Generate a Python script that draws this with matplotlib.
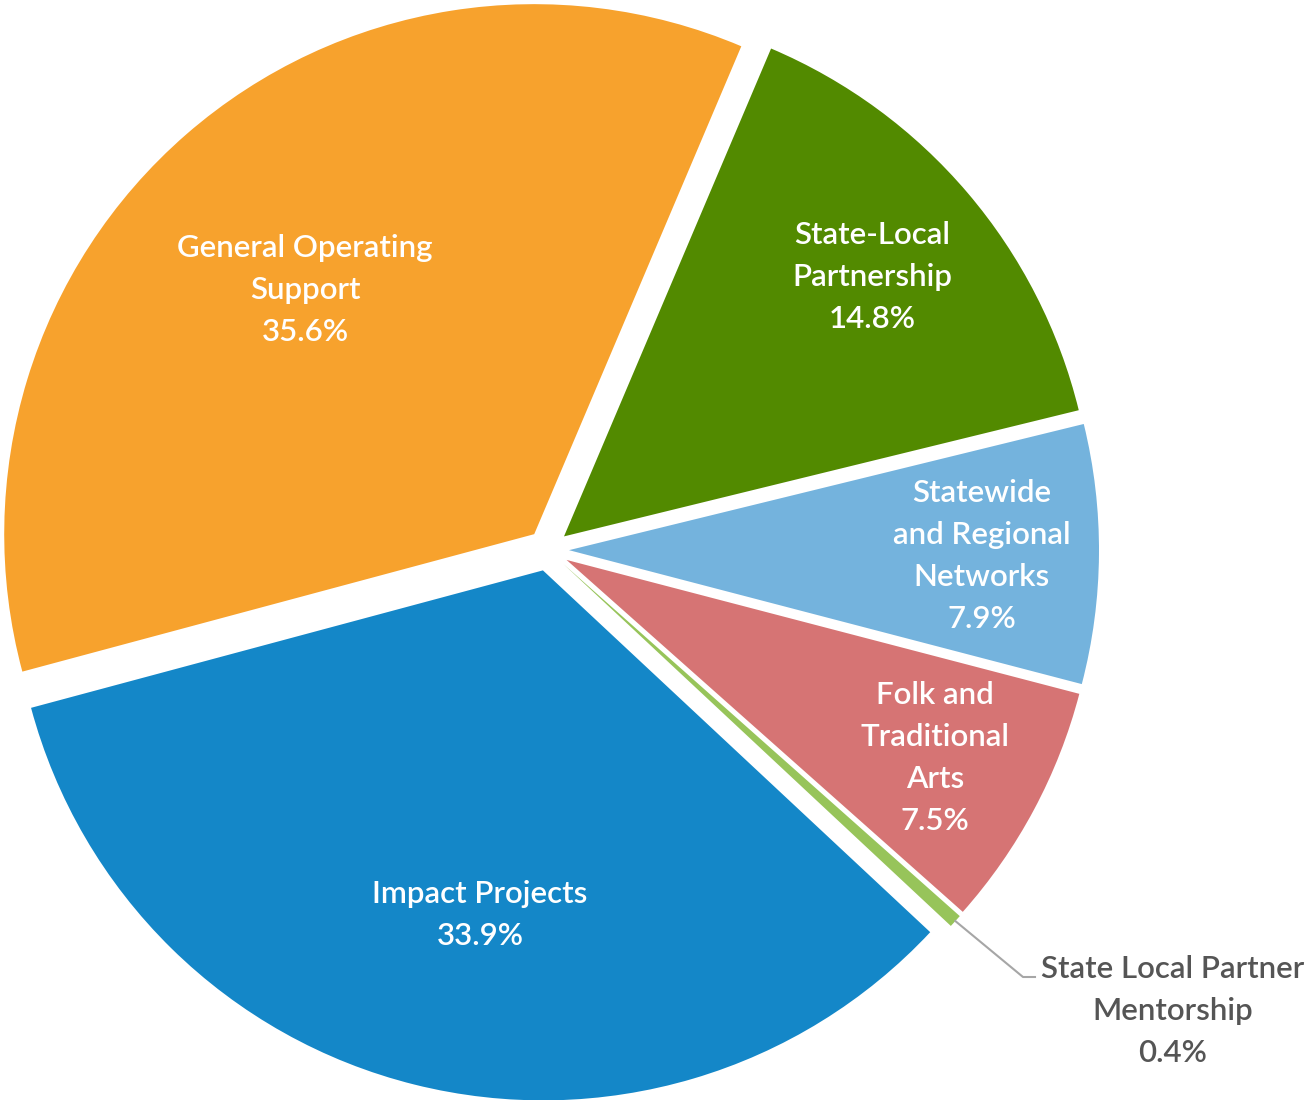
import matplotlib
matplotlib.use("Agg")
import matplotlib.pyplot as plt
import numpy as np

# ---- data ----
categories = ["State-Local\nPartnership", "Statewide\nand Regional\nNetworks",
              "Folk and\nTraditional\nArts", "State Local Partner\nMentorship",
              "Impact Projects", "General Operating\nSupport"]
values = [14.8, 7.9, 7.5, 0.4, 33.9, 35.6]
value_labels = ["14.8%", "7.9%", "7.5%", "0.4%", "33.9%", "35.6%"]
colors = ["#528A00", "#74B3DD", "#D67474", "#97C45A", "#1487C8", "#F7A22D"]

W, H = 1311, 1100
plt.rcParams['font.family'] = ['Lato', 'DejaVu Sans']

fig = plt.figure(figsize=(W / 100, H / 100), dpi=100)
ax = fig.add_axes([0, 0, 1, 1])

R = 530
center = (548, H - 550)
wedges, _ = ax.pie(values, colors=colors, startangle=67.0, counterclock=False,
                   explode=[21] * len(values), radius=R, center=center,
                   wedgeprops=dict(linewidth=0))

ax.set_xlim(0, W)
ax.set_ylim(0, H)
ax.set_aspect('equal')
ax.axis('off')

# label positions (image pixel coords, y down)
label_pos = [(872, 277), (982, 556), (935, 758), (1173, 1011), (480, 915), (305, 290)]
text_colors = ["white", "white", "white", "#555555", "white", "white"]

for cat, vl, (x, y), tc in zip(categories, value_labels, label_pos, text_colors):
    ax.text(x, H - y, cat + "\n" + vl, ha='center', va='center', color=tc,
            fontsize=22.5, fontweight=600, linespacing=1.61)

# leader line for the small slice
w = wedges[3]
ang = np.deg2rad((w.theta1 + w.theta2) / 2)
cx, cy = w.center
x0, y0 = cx + w.r * np.cos(ang), cy + w.r * np.sin(ang)
elbow = (1023, H - 977)
end = (1035, H - 977)
ax.plot([x0, elbow[0], end[0]], [y0, elbow[1], end[1]], color="#A6A6A6", lw=1.5)

fig.savefig("out.png", dpi=100)
